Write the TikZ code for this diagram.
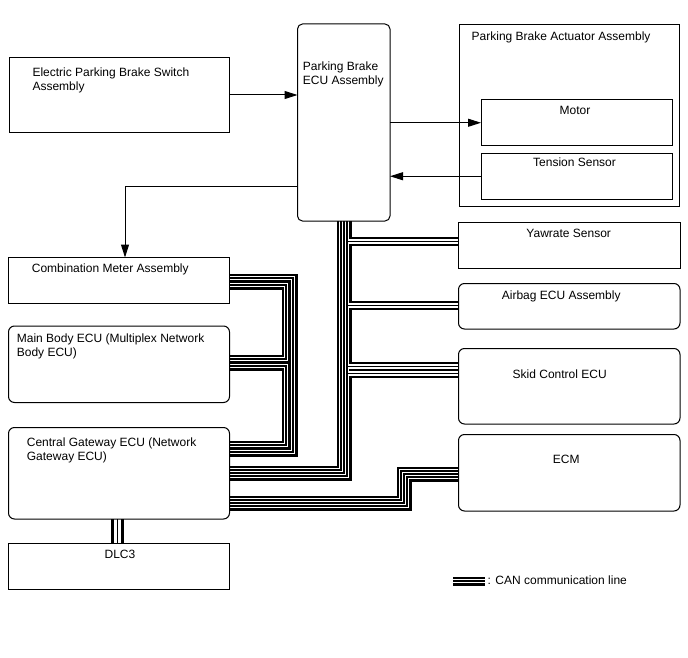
\documentclass[tikz,border=0pt]{standalone}
\usepackage{fontspec}
\setmainfont{Liberation Sans}
\usetikzlibrary{arrows.meta}
\pgfdeclarelayer{bg}
\pgfsetlayers{bg,main}
\newcommand\mltext[1]{\begin{tabular}[t]{@{}l@{}}#1\end{tabular}}
\tikzset{
  box/.style={draw, line width=1pt, inner sep=0pt, outer sep=0pt, anchor=north west},
  rbox/.style={box, rounded corners=6pt},
  lbl/.style={inner sep=0pt, anchor=base west, font=\fontsize{12}{14}\selectfont},
  clbl/.style={inner sep=0pt, anchor=base, font=\fontsize{12}{14}\selectfont},
  arr/.style={line width=1pt, -{Triangle[length=13pt,width=8pt]}},
  canA/.style={line width=9pt, line join=miter, draw=black},
  canB/.style={line width=4.2pt, line join=miter, draw=white},
  canC/.style={line width=1.5pt, line join=miter, draw=black},
}
\newcommand\canroutes[1]{%
  \draw[#1] (ecu.south -| ca) -- (ca) -- (cgw.east |- ca);
  \draw[#1] (ecu.south -| cb) -- (cb) -- (cgw.east |- cb);
  \draw[#1] (by) -- (yaw.west |- by);
  \draw[#1] (ba) -- (air.west |- ba);
  \draw[#1] (bs1) -- (skid.west |- bs1);
  \draw[#1] (bs2) -- (skid.west |- bs2);
  \draw[#1] (ecm.west |- e1) -- (e1) -- (e2) -- (cgw.east |- e2);
  \draw[#1] (ecm.west |- f1) -- (f1) -- (f2) -- (cgw.east |- f2);
  \draw[#1] (cm.east |- o1) -- (o1) -- (o2) -- (cgw.east |- o2);
  \draw[#1] (cm.east |- i1) -- (i1) -- (i2) -- (mb.east |- i2);
  \draw[#1] (mb.east |- i3) -- (i3) -- (i4) -- (cgw.east |- i4);
  \draw[#1] (lg1) -- (lg2);
}
\begin{document}
\begin{tikzpicture}[x=1pt,y=-1pt]
\useasboundingbox (0,0) rectangle (688,658);
% boxes
\node[box, minimum width=220.5pt, minimum height=75pt] (sw) at (9,57.5) {};
\node[box, rounded corners=5pt, minimum width=92.5pt, minimum height=197pt] (ecu) at (297.5,24) {};
\node[box, minimum width=220pt, minimum height=182pt] (act) at (459,24.5) {};
\node[box, minimum width=191pt, minimum height=45.5pt] (motor) at (481,100) {};
\node[box, minimum width=191pt, minimum height=45.5pt] (tens) at (481,153.5) {};
\node[box, minimum width=221.5pt, minimum height=45.5pt] (yaw) at (458.5,222.5) {};
\node[rbox, minimum width=221.5pt, minimum height=45.5pt] (air) at (458.5,283.5) {};
\node[rbox, minimum width=221.5pt, minimum height=75.5pt] (skid) at (458.5,348.5) {};
\node[rbox, minimum width=221.5pt, minimum height=76.5pt] (ecm) at (458.5,434.5) {};
\node[box, minimum width=221pt, minimum height=46pt] (cm) at (8.5,257.5) {};
\node[rbox, minimum width=221pt, minimum height=76.5pt] (mb) at (8.5,326) {};
\node[rbox, minimum width=221pt, minimum height=91.5pt] (cgw) at (8.5,427.5) {};
\node[box, minimum width=221pt, minimum height=46pt] (dlc) at (8.5,543) {};
% texts
\node[lbl] (tsw) at (32.3,76.9) {\mltext{Electric Parking Brake Switch\\Assembly}};
\node[lbl] (tecu) at (302.7,70.3) {\mltext{Parking Brake\\ECU Assembly}};
\node[lbl] (tact) at (471.5,40.5) {Parking Brake Actuator Assembly};
\node[clbl] (tmot) at (575,114.8) {Motor};
\node[clbl] (tten) at (574.5,166.6) {Tension Sensor};
\node[clbl] (tyaw) at (568.7,237) {Yawrate Sensor};
\node[clbl] (tair) at (561.2,299.6) {Airbag ECU Assembly};
\node[clbl] (tskid) at (559.7,378.6) {Skid Control ECU};
\node[clbl] (tecm) at (566.3,463) {ECM};
\node[lbl] (tcm) at (31.7,272.6) {Combination Meter Assembly};
\node[lbl] (tmb) at (16.7,342) {\mltext{Main Body ECU (Multiplex Network\\Body ECU)}};
\node[lbl] (tcgw) at (26.7,446.3) {\mltext{Central Gateway ECU (Network\\Gateway ECU)}};
\node[clbl] (tdlc) at (120,558.6) {DLC3};
\node[lbl] (tleg) at (487.5,584.5) {: CAN communication line};
% arrows
\draw[arr] (sw.east) -- (ecu.west |- sw.east);
\draw[arr] (ecu.east |- motor.west) -- (motor.west);
\draw[arr] (tens.west) -- (ecu.east |- tens.west);
\coordinate (bcm) at (125,186.7);
\draw[arr] (ecu.west |- bcm) -- (bcm) -- (cm.north -| bcm);
% CAN routes
\coordinate (ca) at (341,470);
\coordinate (cb) at (347,476);
\coordinate (by) at (347,241.5);
\coordinate (ba) at (347,305.5);
\coordinate (bs1) at (347,366.5);
\coordinate (bs2) at (347,373.5);
\coordinate (e1) at (401,471);
\coordinate (e2) at (401,500);
\coordinate (f1) at (407,477);
\coordinate (f2) at (407,506);
\coordinate (o1) at (293,278);
\coordinate (o2) at (293,452);
\coordinate (i1) at (286,285);
\coordinate (i2) at (286,359);
\coordinate (i3) at (286,366);
\coordinate (i4) at (286,445);
\coordinate (lg1) at (453,581);
\coordinate (lg2) at (485,581);
\coordinate (dl) at (117.7,530);
\begin{pgfonlayer}{bg}
  \canroutes{canA}
  \canroutes{canB}
  \canroutes{canC}
  \draw[line width=1.5pt, preaction={draw, line width=13pt}, preaction={draw=white, line width=7pt}] (cgw.south -| dl) -- (dlc.north -| dl);
\end{pgfonlayer}
\end{tikzpicture}
\end{document}
